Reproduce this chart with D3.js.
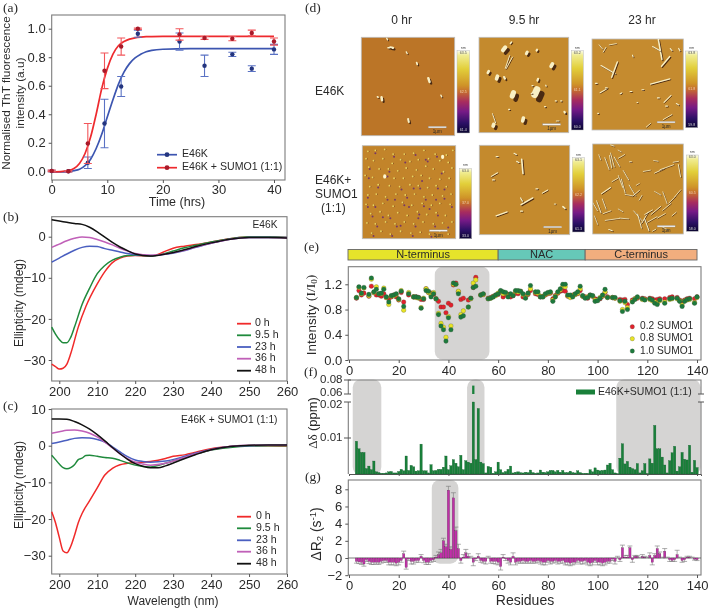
<!DOCTYPE html>
<html><head><meta charset="utf-8">
<style>html,body{margin:0;padding:0;background:#fff}svg{display:block;filter:blur(0.35px)}text{font-family:"Liberation Sans",Arial,sans-serif;fill:#2a2a2a}</style>
<script src="https://cdn.jsdelivr.net/npm/d3@7/dist/d3.min.js"></script>
</head><body><svg id="c" width="709" height="610"></svg>
<script>
// ---------- panel (a) ----------
const thtTime=[0,3,6.5,9.5,12.5,15.5,23,27.5,32.5,36,40];
const thtE46K=[0.002,0,0.06,0.335,0.595,0.965,0.91,0.74,0.82,0.72,0.855];
const thtE46KErr=[0.005,0.005,0.04,0.17,0.07,0.025,0.06,0.075,0.015,0.02,0.035];
const thtSumo=[0.003,0,0.195,0.705,0.875,1.0,0.96,0.935,0.93,0.97,0.91];
const thtSumoErr=[0.005,0.005,0.14,0.125,0.06,0.005,0.04,0.01,0.015,0.02,0.025];
const fitTime=[0,2,3,4,5,6,7,8,9,10,11,12,13,14,15,16,17,18,20,25,40];
const fitE46K=[-0.005,-0.004,-0.002,0.005,0.015,0.04,0.085,0.16,0.26,0.38,0.5,0.61,0.695,0.755,0.795,0.82,0.838,0.848,0.856,0.86,0.86];
const fitSumo=[-0.004,0,0.006,0.02,0.055,0.125,0.24,0.4,0.58,0.72,0.82,0.88,0.91,0.927,0.936,0.941,0.944,0.945,0.946,0.946,0.946];
// ---------- panels (b), (c) ----------
const cdLabels=["0 h","9.5 h","23 h","36 h","48 h"];
const cdColors=["#f02a2a","#1f8a3c","#4a5fc0","#c060b8","#111111"];
const bRedX=[198,199,200,201,202,203,205,207,210,212,214,216,218,220,224,226,228,230,233,236,240,245,250,255,260];
const bRedY=[-31,-31.6,-32.2,-32,-31,-28.5,-22,-17,-11.5,-8.5,-6.3,-5.2,-4.7,-4.6,-4.7,-4.3,-3.5,-2.8,-2.3,-1.9,-1.3,-0.5,-0.1,0,-0.2];
const bGreenX=[198,199,200,201,202,203,204,206,208,210,212,214,216,218,220,224,227,230,233,236,240,245,250,255,260];
const bGreenY=[-22,-23.7,-25,-25.8,-25.8,-24.5,-22,-16.5,-12.5,-9,-7,-5.7,-5,-4.6,-4.5,-4.7,-4.3,-3.5,-2.7,-2.1,-1.3,-0.5,0,0,-0.2];
const bBlueX=[198,200,202,204,206,208,210,212,214,216,218,220,224,228,232,236,240,245,250,255,260];
const bBlueY=[-6.2,-5.2,-4.2,-3.3,-2.6,-2.3,-2.4,-2.9,-3.3,-3.7,-4.1,-4.4,-4.6,-4.3,-3.6,-2.6,-1.6,-0.6,-0.2,-0.2,-0.2];
const bPurpleX=[198,200,202,204,206,208,210,212,214,216,218,220,224,228,232,236,240,245,250,255,260];
const bPurpleY=[-2.6,-1.8,-1,-0.4,-0.05,-0.2,-0.7,-1.3,-2,-2.8,-3.5,-4.1,-4.5,-4.2,-3.5,-2.5,-1.6,-0.6,-0.2,-0.2,-0.3];
const bBlackX=[198,200,202,204,206,208,210,212,214,216,218,220,224,228,232,236,240,245,250,255,260];
const bBlackY=[4.1,3.8,3.5,3.2,3,2.3,1.2,-0.1,-1.4,-2.5,-3.4,-4.2,-4.7,-4.2,-3.4,-2.4,-1.5,-0.6,-0.2,-0.2,-0.3];
const cRedX=[198,199,200,201,202,203,204,205,206,208,210,212,214,216,218,220,224,228,230,233,236,240,245,250,255,260];
const cRedY=[-18,-21,-25,-28.7,-29.2,-27.5,-24.5,-21,-18.5,-15,-11.5,-8,-6.2,-5.2,-4.8,-4.6,-4.3,-3.5,-2.9,-2.5,-1.8,-0.8,-0.2,0,0,-0.1];
const cGreenX=[198,199,200,201,202,203,204,205,206,207,208,210,212,214,216,218,220,224,228,232,236,240,245,250,255,260];
const cGreenY=[-2.6,-3.8,-5,-6,-6.3,-6,-5.2,-3.8,-3.4,-2.7,-2.6,-2.9,-3.2,-3.4,-4,-4.7,-5.3,-5.8,-4.8,-3.5,-2.3,-1.2,-0.5,-0.1,0,0];
const cBlueX=[198,200,202,204,206,208,210,212,214,216,218,220,222,224,228,232,236,240,245,250,255,260];
const cBlueY=[0.6,1,1.5,2,2.2,2.1,1.7,1,-0.3,-1.7,-3,-3.9,-4.3,-4.5,-4.2,-3.2,-2,-1,-0.2,0,0.1,0.1];
const cPurpleX=[198,200,202,204,206,208,210,212,214,216,218,220,222,224,228,232,236,240,245,250,255,260];
const cPurpleY=[3.4,3.8,4.2,4.3,4,3.4,2.4,1,-0.6,-2.2,-3.5,-4.5,-5,-5.3,-4.8,-3.5,-2.2,-1.1,-0.2,0.1,0.1,0.1];
const cBlackX=[198,200,202,204,206,208,210,212,214,216,218,220,222,224,226,228,232,236,240,245,250,255,260];
const cBlackY=[7.3,7.3,7.2,6.6,5.7,4.5,3,1.3,-0.5,-2.2,-3.7,-4.9,-5.6,-6,-6,-5.5,-3.9,-2.4,-1.1,-0.2,0.1,0.2,0.2];
// ---------- panel (e) ----------
const eRes=[3,4,5,6,8,9,10,11,12,13,
14,15,16,17,18,19,20,21,22,24,
26,27,28,29,30,31,32,33,34,35,
36,37,38,39,40,41,42,43,44,45,
46,48,49,50,51,53,54,56,57,58,
59,60,61,62,63,64,65,66,67,68,
69,70,71,72,73,75,76,77,78,79,
80,81,82,83,84,85,86,87,88,89,
90,91,92,93,94,95,96,97,98,99,
100,101,102,103,104,106,107,109,110,111,
112,114,115,116,118,119,121,122,123,124,
125,127,129,130,132,133,134,135,136,137,
139,140];
const eGreen=[.99,1.16,1.06,1.15,1.04,1.30,1.08,1.12,1.05,1.06,
1.12,1.00,.92,1.02,1.03,1.05,.97,1.09,.85,1.05,
1.00,1.00,.99,.82,.97,1.10,1.09,1.00,1.05,.97,
.72,.54,.48,.30,.67,.48,1.22,1.20,1.05,.68,
.70,.84,.98,1.15,1.17,1.03,1.05,.97,.98,1.00,
1.03,1.05,1.10,1.08,1.07,1.00,1.05,1.02,1.10,1.10,
1.09,1.05,.98,1.06,1.18,1.08,1.08,1.00,1.00,1.05,
1.07,1.08,.93,1.00,1.08,1.13,1.20,1.20,1.03,1.03,
1.00,1.05,1.08,1.17,1.02,.98,.99,1.03,1.02,.93,
.94,.98,1.03,1.12,.99,.99,.99,.94,.77,.93,
.80,.92,.96,1.00,.97,.95,.97,.95,.90,.88,
.95,.90,.97,.98,.98,.93,.85,.93,.96,.97,
.90,1.00];
const eYellow=[.99,1.15,1.05,1.14,1.02,1.28,1.07,1.16,1.05,1.05,
1.14,.99,.88,1.01,1.02,1.04,.96,1.10,.79,1.07,
1.00,.99,.98,.83,.98,1.13,1.07,1.02,1.07,.97,
.74,.58,.52,.36,.69,.54,1.20,1.20,1.09,.72,
.78,.84,.97,1.22,1.27,1.03,1.04,.97,.98,1.00,
1.02,1.06,1.09,1.05,1.06,1.01,1.04,1.03,1.09,1.08,
1.08,1.04,.99,1.05,1.13,1.07,1.06,1.01,1.00,1.04,
1.06,1.07,.95,1.01,1.07,1.11,1.17,1.16,1.02,.99,
1.02,1.04,1.06,1.13,1.01,.99,1.00,1.02,1.01,.95,
.95,.99,1.02,1.08,.99,.99,.98,.93,.80,.91,
.83,.93,.97,.99,.96,.96,.96,.94,.92,.90,
.94,.92,.96,.97,.97,.94,.87,.94,.95,.96,
.91,.99];
const eRed=[.98,1.10,1.03,1.06,1.01,1.17,1.07,1.03,1.03,1.01,
1.05,.99,.97,1.00,1.03,1.00,.95,1.07,.92,1.03,
1.00,1.00,.99,.96,.96,1.13,1.07,1.06,1.04,.97,
.93,.84,.84,.75,.90,.87,1.19,1.22,1.08,.96,
.98,.95,.98,1.15,1.31,1.03,1.04,.98,.99,1.01,
1.03,1.04,1.09,1.00,1.03,1.04,1.00,1.02,1.06,1.05,
1.09,1.00,1.00,1.04,1.10,1.05,1.04,1.00,1.01,1.03,
1.05,1.06,.97,1.02,1.06,1.09,1.10,1.09,1.01,1.00,
1.03,1.04,1.05,1.10,1.01,1.00,.98,1.03,1.01,.97,
.96,.97,1.01,1.07,1.00,.99,.98,.96,.95,.96,
.88,.95,.97,.98,.98,.97,.98,.97,.95,.96,
.97,.97,.99,1.00,.99,.95,.93,.95,.97,.98,
.97,1.00];
const regionNames=["N-terminus","NAC","C-terminus"];
const regionStart=[0,60,95];
const regionEnd=[60,95,140];
const regionFill=["#e6e42a","#66c8b8","#f2ae7e"];
// ---------- panel (f): residues 3..140 ----------
const fRes3to140=[.0091,.0070,.0060,.0060,.0015,.0022,.0012,.0036,.0006,.0004,
.0002,.0002,.0003,.0006,.0007,.0003,.0003,.0007,.0013,.0009,
.0050,.0010,.0024,.0020,.0008,.0009,.0083,.0009,.0009,.0003,
.0026,.0009,.0010,.0013,.0013,.0019,.0050,.0012,.0023,.0040,
.0030,.0020,.0052,.0012,.0037,.0033,.0030,.072,.0040,.0182,
.0033,.0029,.0003,.0021,.0019,.0002,.0006,.0033,.0012,.0004,
.0007,.0013,.0022,.0003,.0005,.0006,.0004,.0003,.0005,.0004,
.0011,.0004,.0002,.0003,.0011,.0005,.0004,.0006,.0010,.0010,
.0006,.0010,.0005,.0010,.0004,.0004,.0008,.0004,.0003,.0009,
.0004,.0002,.0002,.0002,.0012,.0006,.0017,.0011,.0009,.0010,
.0011,.0025,.0030,.0012,.0003,.0001,.0044,.0084,.0028,.0035,
.0019,.0015,.0012,.0029,.0003,.0009,.0029,.0001,.0042,.0030,
.0135,.0070,.0070,.0047,.0025,.0003,.0037,.0059,.0077,.0008,
.0020,.0060,.0041,.0039,.0080,.0005,.0038,.0018];
// ---------- panel (g): residues 3..140 ----------
const gRes3to140=[-.4,-.45,-.5,-.7,-.2,-.4,-.5,-.5,-.5,-.5,
-.4,-.3,-.3,-.5,-.5,-.5,-.6,-.5,-.3,.5,
-1.1,-.1,-.4,-.4,-.3,-.3,.2,-.3,-.5,-.5,
-.3,-.2,.1,.4,.6,2,1.3,7.9,1,7,
3.2,1.1,-.3,.1,.6,.2,0,-.5,-.1,.2,
-.3,-.4,-.4,0,-.4,-.4,-.4,-.5,-1,.1,
-.1,-.3,-.5,.2,-.5,-.4,-.4,-.3,-.4,-.4,
-.3,-.4,-.4,-.3,-.4,-.5,-.5,-.3,-.4,-.4,
-.3,-.4,-.4,-.3,-.5,-.5,-.6,-.5,-.5,-.3,
-.4,-.4,-.3,-.5,-.6,-.5,-.3,-.5,-.5,-.6,
-.5,-.4,-.4,-.1,-.4,0,-.2,1.2,.1,.1,
1.2,-.2,.2,.2,0,.2,.1,0,.3,-.5,
.3,1.1,.5,0,.8,0,-.2,-.3,-.2,.4,
0,-.3,-.2,.1,.1,0,-.15,-.2];
const gErr3to140=[.2,.2,.25,.25,.2,.25,.25,.25,.2,.25,
.2,.2,.2,.3,.3,.3,.3,.3,.2,.3,
.2,.2,.3,.3,.2,.2,.2,.25,.25,.25,
.2,.2,.2,.3,.4,.3,.3,.45,.3,.6,
.4,.5,.3,.3,.4,.3,.2,.4,.2,.3,
.2,.2,.3,.2,.2,.25,.3,.3,.4,.3,
.2,.3,.3,.4,.3,.2,.2,.3,.2,.2,
.3,.2,.2,.2,.3,.3,.3,.2,.3,.2,
.2,.3,.2,.3,.3,.3,.3,.3,.2,.2,
.3,.3,.3,.3,.3,.3,.2,.3,.3,.3,
.3,.2,.2,.2,.3,.2,.2,.3,.2,.2,
.2,.3,.1,.1,.1,.2,.1,.1,.3,.3,
.2,.3,.2,.1,.3,.1,.2,.1,.2,.5,
.1,.2,.2,.1,.1,.1,.1,.1];
// ---------- panel (d): AFM topography features, positions in % of each scan ----------
// [x%, y%, length%, angle deg, width px]
const afm1=[[28,2,2,60,2],[33,11,3,10,3.4],[30,11,2,0,2.4],[49,16,2,60,2],[60,27,2,70,2.6],[73,44,4,70,3.6],[22.5,63,3,80,3.6],[18,61,1,30,2.2],[86,60,2,60,2],[51,85,3,75,3]];
const afm2=[[29,13,4,-50,6],[36,6,2,-50,2.2],[54,17,2,-60,4.4],[65,14,1,-60,3.2],[82,30,3,-60,5.4],[32,26,14,-70,1.4],[34,27,14,-60,1.4],[11,37,2,-60,4],[21,43,3,-70,5.4],[29,43,2,60,3.2],[66,45,2,-70,3.2],[39,61,4,-70,7.5],[65,59,6,-65,10],[59,59,1,0,1.8],[17,93,2,-70,5.4],[17,85,10,70,1.4],[50,87,3,-75,5.4],[86,67,1,0,2],[92,67,1,0,2],[74,73,1,0,2],[96,79,1,60,3.2],[34,76,1,0,2],[60,51,1,0,2],[75,51,1,60,2],[88,88,3,0,1.6]];
const afm3=[[18,34,18,30,1.8],[25,34,18,-70,2.1],[75,12,22,80,2.3],[71,11,10,30,1.6],[81,25,14,-50,2.1],[75,47,22,-15,1.8],[13,57,9,-30,1.5],[83,66,11,-45,1.5],[10,9,6,50,1.3],[14,12,6,-60,1.3],[23,6,8,-10,1.2],[87,12,3,50,1.8],[96,12,3,60,1.8],[83,86,11,-30,1.3],[62,95,6,-40,1.3],[5,49,2,0,1.7],[32,60,2,-30,1.7],[43,58,2,0,1.7],[56,56,2,0,1.7],[73,65,2,0,1.7],[82,74,2,0,1.7],[94,72,3,30,1.7],[16,54,2,0,1.7],[45,19,2,70,1.7],[7,82,1,0,1.7],[50,70,1,0,1.4]];
const afm4Light=[[6,6],[14,5],[24,4],[33,9],[45,9],[55,8],[66,5],[78,9],[90,10],[97,5],[4,14],[12,16],[22,14],[32,19],[41,15],[51,17],[60,15],[71,14],[83,16],[92,18],[7,23],[18,25],[28,25],[38,27],[47,24],[58,26],[68,22],[76,25],[87,28],[96,24],[3,32],[11,34],[24,34],[34,35],[44,35],[54,33],[63,32],[72,35],[83,36],[93,35],[8,44],[17,42],[29,43],[40,44],[51,42],[60,43],[70,45],[79,43],[90,44],[6,53],[15,52],[25,55],[36,52],[46,53],[56,52],[66,55],[75,53],[86,54],[95,52],[4,63],[12,64],[22,62],[33,65],[43,61],[53,64],[64,62],[74,64],[83,62],[94,63],[9,73],[19,71],[28,75],[38,72],[48,75],[59,71],[69,74],[79,72],[89,75],[5,83],[14,84],[25,82],[35,84],[45,82],[55,84],[65,82],[76,84],[86,83],[96,82],[10,94],[20,92],[30,95],[41,92],[52,94],[62,93],[72,95],[83,92],[92,95]];
const afm4Dark=[[27,33],[68,15],[8,25],[46,18],[70,17],[85,30],[35,58],[55,46],[72,68],[22,77],[41,86],[60,78],[92,88],[14,66],[79,58],[29,28],[64,38],[50,66],[7,35],[88,47],[14,8],[34,12],[57,10],[80,12],[17,45],[42,47],[62,46],[81,46],[6,56],[27,58],[48,56],[68,58],[88,57],[6,66],[45,64],[66,65],[96,66],[11,76],[30,78],[61,74],[81,75],[16,87],[37,87],[57,87],[78,87],[12,97],[32,97],[54,97],[74,98]];
const afm4Bright=[[24,33],[86,12]];
const afm5=[[48,24,16,85,2.4],[40,10,3,30,1.8],[17,33,8,-30,1.6],[53,63,15,-30,2.1],[25,77,13,-20,1.8],[73,52,7,-30,1.6],[20,13,2,0,1.8],[16,39,2,0,1.8],[64,49,2,0,1.8],[94,70,3,40,2.4],[84,66,1.5,0,1.4],[47,74,2,0,1.8],[43,19,3,30,1.8],[47,61,4,60,1.8]];
const afm6=[[22,18,16,75,1.3],[20,20,14,80,1.3],[16,22,14,70,1.3],[27,20,12,60,1.3],[32,14,8,-30,1.2],[30,8,4,30,1.2],[8,15,6,70,1.2],[31,42,14,70,1.3],[34,47,16,75,1.3],[37,35,12,60,1.3],[15,52,12,-35,1.6],[25,40,8,-30,1.2],[44,52,14,60,1.3],[48,55,10,-40,1.3],[40,57,8,10,1.2],[3,70,10,60,1.3],[7,70,14,70,1.4],[13,67,12,70,1.3],[16,76,9,-20,1.2],[4,85,10,70,1.2],[22,84,16,-8,1.2],[35,83,10,5,1.2],[50,80,14,50,1.4],[52,86,16,75,1.4],[58,82,14,-60,1.4],[60,90,14,70,1.6],[62,76,10,-30,1.3],[66,84,12,-30,1.2],[70,74,14,-40,1.3],[76,80,10,-30,1.2],[82,70,12,-40,1.2],[88,62,10,-45,1.2],[80,60,14,70,1.2],[94,55,10,-50,1.2],[72,55,8,30,1.2],[74,30,12,-25,1.3],[82,26,16,-20,1.2],[92,20,6,-10,1.2],[96,30,14,80,1.4],[60,30,8,-10,1.2],[70,19,5,10,1.2],[50,45,4,-30,1.1],[20,96,4,20,1.8],[22,2,4,20,1.4],[80,94,6,30,1.2],[68,96,4,-30,1.2],[53,60,6,-60,1.2],[31,74,6,30,1.2],[90,78,6,-40,1.2],[42,20,2,0,1.4]];
const afmTitles=["0 hr","9.5 hr","23 hr"];
const afmBase=["#bb7527","#c48a2d","#c58b2f","#c2842a","#c48a2d","#c48b2e"];
const barTop=["63.5","63.2","63.8","63.0","63.1","63.0"];
const barMid=["62.5","61.1","61.8","37.0","62.2","60.5"];
const barLow=["61.4","60.0","59.8","33.0","61.3","58.0"];

const svg=d3.select("#c");
const defs=svg.append("defs");
const grey="#7d7d7d";
const lab=(x,y,t,o={})=>svg.append("text").attr("x",x).attr("y",y).attr("font-size",o.s||13).attr("text-anchor",o.a||"start").attr("dominant-baseline","middle")
  .style("font-family",o.f||null).text(t);
const vlab=(x,y,t,s=13)=>svg.append("text").attr("transform",`translate(${x},${y}) rotate(-90)`).attr("font-size",s).attr("text-anchor","middle").attr("dominant-baseline","middle").text(t);
[["(a)",3,8.5],["(b)",3,218],["(c)",3,407],["(d)",305,8.5],["(e)",304,248],["(f)",304,373],["(g)",305,478]].forEach(d=>lab(d[1],d[2],d[0],{s:13.5,f:"Liberation Serif"}));

function frame(x0,x1,y0,y1){svg.append("rect").attr("x",x0).attr("y",y0).attr("width",x1-x0).attr("height",y1-y0).attr("fill","none").attr("stroke",grey).attr("stroke-width",1.1);}
function axes(x,y,xt,yt,x0,x1,y0,y1,opt={}){
  frame(x0,x1,y0,y1);
  const gx=svg.append("g").attr("transform",`translate(0,${y1})`).call(d3.axisBottom(x).tickValues(xt).tickSize(3).tickPadding(opt.xp||3).tickFormat(opt.xf||d3.format("d")));
  const gy=svg.append("g").attr("transform",`translate(${x0},0)`).call(d3.axisLeft(y).tickValues(yt).tickSize(3).tickPadding(3).tickFormat(opt.yf||d3.format("d")));
  [gx,gy].forEach(g=>{g.select(".domain").remove();g.selectAll("line").attr("stroke","#555");g.selectAll("text").attr("font-size",opt.fs||13).style("font-family",'"Liberation Sans"').style("fill","#2a2a2a");});
}
const line=(x,y)=>d3.line().x(d=>x(d[0])).y(d=>y(d[1])).curve(d3.curveMonotoneX);
const zip=(a,b)=>a.map((v,i)=>[v,b[i]]);

// ---- (a)
{
 const x=d3.scaleLinear().domain([0,40]).range([51.7,274]);
 const y=d3.scaleLinear().domain([0,1]).range([171.3,28.7]);
 axes(x,y,[0,10,20,30,40],[0,.2,.4,.6,.8,1],51.7,285,15,180,{yf:d3.format(".1f"),xp:2});
 const sets=[[thtE46K,thtE46KErr,fitE46K,"#3c55b0","#24357f","#5a72c4"],[thtSumo,thtSumoErr,fitSumo,"#ee2a2e","#a81a2a","#f2555a"]];
 sets.forEach(s=>{
  svg.append("path").attr("d",line(x,y)(zip(fitTime,s[2]))).attr("fill","none").attr("stroke",s[3]).attr("stroke-width",1.7);
 });
 sets.forEach(s=>{
  const g=svg.append("g");
  thtTime.forEach((t,i)=>{
   const px=x(t),a=y(s[0][i]-s[1][i]),b=y(s[0][i]+s[1][i]);
   g.append("path").attr("d",`M${px-4},${a}H${px+4}M${px-4},${b}H${px+4}M${px},${a}V${b}`).attr("fill","none").attr("stroke",s[5]).attr("stroke-width",1.1);
   g.append("circle").attr("cx",px).attr("cy",y(s[0][i])).attr("r",2.2).attr("fill",s[4]);
  });
 });
 [["E46K",154.7,sets[0]],["E46K + SUMO1 (1:1)",167.7,sets[1]]].forEach(d=>{
  svg.append("line").attr("x1",157).attr("x2",177).attr("y1",d[1]).attr("y2",d[1]).attr("stroke",d[2][3]).attr("stroke-width",1.7);
  svg.append("circle").attr("cx",167).attr("cy",d[1]).attr("r",2.4).attr("fill",d[2][4]);
  lab(182,d[1],d[0],{s:10.6});
 });
 vlab(7,93,"Normalised ThT fluorescence",11.8);
 vlab(21,93,"intensity (a.u)",11.8);
 lab(177,203,"Time (hrs)",{a:"middle",s:12.5});
}
// ---- (b),(c)
function cd(series,y0,y1,zero,m30,yt,title,titleY,legY,legTx){
 const x=d3.scaleLinear().domain([198,260]).range([51.7,287]);
 const y=d3.scaleLinear().domain([0,-30]).range([zero,m30]);
 axes(x,y,[200,210,220,230,240,250,260],yt,51.7,287,y0,y1);
 series.forEach((s,i)=>svg.append("path").attr("d",line(x,y)(zip(s[0],s[1]))).attr("fill","none").attr("stroke",cdColors[i]).attr("stroke-width",1.5));
 legY.forEach((ly,i)=>{
  svg.append("line").attr("x1",237).attr("x2",251).attr("y1",ly).attr("y2",ly).attr("stroke",cdColors[i]).attr("stroke-width",1.8);
  lab(legTx,ly,cdLabels[i],{s:10.6});
 });
 lab(277.5,titleY,title,{a:"end",s:10.2});
}
cd([[bRedX,bRedY],[bGreenX,bGreenY],[bBlueX,bBlueY],[bPurpleX,bPurpleY],[bBlackX,bBlackY]],216.7,381,236.7,360,[-30,-20,-10,0],"E46K",225,[323.7,335.3,347,358.7,370.7],255);
cd([[cRedX,cRedY],[cGreenX,cGreenY],[cBlueX,cBlueY],[cPurpleX,cPurpleY],[cBlackX,cBlackY]],409,574,445.7,555.7,[-30,-20,-10,0,10],"E46K + SUMO1 (1:1)",420.7,[516.7,528.3,540.3,551.7,563.7],256);
vlab(20,303,"Ellipticity (mdeg)",12);
vlab(20,485,"Ellipticity (mdeg)",12);
lab(173,602,"Wavelength (nm)",{a:"middle",s:12});

// ---- (d)
afmTitles.forEach((t,i)=>lab([401.7,524,642][i],20.7,t,{a:"middle",s:12}));
lab(315,92,"E46K",{s:12});
lab(315,180.7,"E46K+",{s:12});lab(315,195,"SUMO1",{s:12});lab(321,209,"(1:1)",{s:12});
const grad=defs.append("linearGradient").attr("id","cb").attr("x1",0).attr("x2",0).attr("y1",0).attr("y2",1);
[[0,"#fbfbe8"],[.06,"#f0ec90"],[.22,"#e2cf3a"],[.42,"#cf9428"],[.5,"#c56c30"],[.62,"#a82c5e"],[.74,"#761a86"],[.88,"#2c1066"],[1,"#0a0530"]].forEach(s=>grad.append("stop").attr("offset",s[0]).attr("stop-color",s[1]));
const imgs=[[361.3,454.7,37.3,135.7,afm1],[479,568.7,37.3,132.7,afm2],[592,683.3,39,130,afm3],[362.3,455.7,145.7,238.7,null],[479.3,569.7,145.3,234.7,afm5],[592.7,683.3,144,234,afm6]];
const bars=[[457,469.7,50.7,133],[571.3,583.3,50.7,130],[685.7,697.7,51,127.7],[459.3,471.7,168.3,238.7],[572.3,584.7,157.7,232],[686.3,698.3,155,231.3]];
imgs.forEach((im,k)=>{
 const [a,b,c,d,f]=im;
 const X=d3.scaleLinear().domain([0,100]).range([a,b]),Y=d3.scaleLinear().domain([0,100]).range([c,d]);
 defs.append("clipPath").attr("id","ci"+k).append("rect").attr("x",a).attr("y",c).attr("width",b-a).attr("height",d-c);
 svg.append("rect").attr("x",a).attr("y",c).attr("width",b-a).attr("height",d-c).attr("fill",afmBase[k]).attr("stroke","#bdbdbd").attr("stroke-width",.8);
 const g=svg.append("g").attr("clip-path",`url(#ci${k})`);
 if(f){
  f.forEach(p=>{
   const ang=p[3]*Math.PI/180,hx=p[2]/2*Math.cos(ang)*(b-a)/100,hy=p[2]/2*Math.sin(ang)*(d-c)/100;
   const x=X(p[0]),y=Y(p[1]),w=p[4];
   const off=w*.3;
   g.append("line").attr("x1",x-hx+off).attr("y1",y-hy+off).attr("x2",x+hx+off).attr("y2",y+hy+off).attr("stroke","#4a2a12").attr("stroke-width",w*.62).attr("stroke-linecap","round");
   g.append("line").attr("x1",x-hx-off*.5).attr("y1",y-hy-off*.5).attr("x2",x+hx-off*.5).attr("y2",y+hy-off*.5).attr("stroke","#f8efc4").attr("stroke-width",w*.68).attr("stroke-linecap","round");
  });
 } else {
  afm4Dark.forEach(p=>g.append("circle").attr("cx",X(p[0])).attr("cy",Y(p[1])).attr("r",1).attr("fill","#6a2a70").attr("opacity",.85));
  afm4Light.forEach(p=>{
   g.append("circle").attr("cx",X(p[0])+.9).attr("cy",Y(p[1])+.2).attr("r",.8).attr("fill","#8a4f22");
   g.append("circle").attr("cx",X(p[0])).attr("cy",Y(p[1])).attr("r",.9).attr("fill","#e8d562");
  });
  afm4Bright.forEach(p=>g.append("ellipse").attr("cx",X(p[0])).attr("cy",Y(p[1])).attr("rx",1.6).attr("ry",2.2).attr("fill","#fff8d0"));
 }
 // scale bar
 const sw=18;
 g.append("rect").attr("x",X(91)-sw).attr("y",Y(90.5)).attr("width",sw).attr("height",1.6).attr("fill","#f2f2f2").attr("stroke","#888").attr("stroke-width",.3);
 svg.append("text").attr("x",X(91)-sw/2).attr("y",Y(90.5)+5.5).attr("font-size",4.5).attr("text-anchor","middle").attr("dominant-baseline","middle").text("1µm");
 // colour bar
 const cb=bars[k];
 svg.append("rect").attr("x",cb[0]).attr("y",cb[2]).attr("width",cb[1]-cb[0]).attr("height",cb[3]-cb[2]).attr("fill","url(#cb)").attr("stroke","#bbb").attr("stroke-width",.5);
 const cx=(cb[0]+cb[1])/2;
 const tt=(yy,t,col)=>svg.append("text").attr("x",cx).attr("y",yy).attr("font-size",3.6).attr("text-anchor","middle").attr("dominant-baseline","middle").style("fill",col).text(t);
 tt(cb[2]-3,"nm","#444");tt(cb[2]+2.5,barTop[k],"#555");tt((cb[2]+cb[3])/2,barMid[k],"#f0d0b0");tt(cb[3]-2.5,barLow[k],"#ddd");
});

// ---- shared residue x
const xR=d3.scaleLinear().domain([0,141.6]).range([349,701]);
const resAll=d3.range(3,141);
const shade=(r0,r1,y0,y1)=>svg.append("rect").attr("x",xR(r0)).attr("width",xR(r1)-xR(r0)).attr("y",y0).attr("height",y1-y0).attr("rx",8).attr("fill","#d5d4d3");
const resT=[0,20,40,60,80,100,120,140];
regionNames.forEach((n,i)=>{
 const a=xR(regionStart[i])-(i==0?1:0),b=xR(regionEnd[i]);
 svg.append("rect").attr("x",a).attr("y",249.5).attr("width",b-a).attr("height",10.5).attr("fill",regionFill[i]).attr("stroke","#666").attr("stroke-width",.9);
 lab((a+b)/2,255,n,{a:"middle",s:11});
});
// ---- (e)
{
 const y=d3.scaleLinear().domain([0,1.2]).range([360,284.3]);
 shade(34.5,56.5,266.7,359.5);
 axes(xR,y,resT,[0,.4,.8,1.2],348.3,701,266.7,360,{yf:d3.format(".1f")});
 [[eRed,"#e2212c"],[eYellow,"#e9e325"],[eGreen,"#1d7a3d"]].forEach(s=>{
  svg.append("g").selectAll("circle").data(eRes).join("circle").attr("cx",d=>xR(d)).attr("cy",(d,i)=>y(s[0][i])).attr("r",2.3).attr("fill",s[1]).attr("stroke","#3a4a30").attr("stroke-width",.25);
 });
 [["0.2 SUMO1",326.7,"#e2212c"],["0.8 SUMO1",338.7,"#e9e325"],["1.0 SUMO1",351,"#1d7a3d"]].forEach(d=>{
  svg.append("circle").attr("cx",632.3).attr("cy",d[1]).attr("r",2.2).attr("fill",d[2]).attr("stroke","#3a4a30").attr("stroke-width",.25);
  lab(640,d[1],d[0],{s:10.2});
 });
 const v=svg.append("text").attr("transform","translate(312,315) rotate(-90)").attr("font-size",13.5).attr("text-anchor","middle").attr("dominant-baseline","middle");
 v.append("tspan").text("Intensity ");
 v.append("tspan").style("font-family","Liberation Serif").text("(I/I");
 v.append("tspan").attr("font-size",9).attr("dy",3).style("font-family","Liberation Serif").text("0");
 v.append("tspan").attr("dy",-3).style("font-family","Liberation Serif").text(")");
}
// ---- (f)
{
 const yTop=474,yLow=402,yBrk=394,yHi=380;
 const yL=d3.scaleLinear().domain([0,.02]).range([yTop,yLow]);
 const yU=d3.scaleLinear().domain([.06,.08]).range([yBrk,yHi]);
 shade(1.5,13,379.5,475);shade(47.5,54.5,379.5,475);shade(107.5,141.4,379.5,475);
 const bw=2.3;
 const xg=svg.append("g").attr("transform",`translate(0,${yTop})`).call(d3.axisBottom(xR).tickValues(resT).tickSize(2).tickFormat(""));
 xg.select(".domain").attr("stroke","#555");xg.selectAll("line").attr("stroke","#555");
 svg.append("g").selectAll("rect").data(resAll).join("rect").attr("x",d=>xR(d)-bw/2).attr("width",bw)
  .attr("y",(d,i)=>yL(Math.min(fRes3to140[i],.02))).attr("height",(d,i)=>yTop-yL(Math.min(fRes3to140[i],.02)))
  .attr("fill","#19803a").attr("stroke","#0f5a28").attr("stroke-width",.3);
 resAll.forEach((d,i)=>{ if(fRes3to140[i]>.02) svg.append("rect").attr("x",xR(d)-bw/2).attr("width",bw).attr("y",yU(fRes3to140[i])).attr("height",yBrk-yU(fRes3to140[i])).attr("fill","#19803a"); });
 const path=`M348.3,${yTop}V${yLow}M348.3,${yBrk}V${yHi}H701V${yBrk}M701,${yLow}V${yTop}`;
 svg.append("path").attr("d",path).attr("fill","none").attr("stroke",grey).attr("stroke-width",1.1);
 [[yHi,"0.08",379.5],[yBrk,"0.06",392.5],[yLow,"0.02",405],[yL(.01),"0.01",437.5]].forEach(d=>{
  svg.append("line").attr("x1",344).attr("x2",351).attr("y1",d[0]).attr("y2",d[0]).attr("stroke","#555");
  lab(342.5,d[2],d[1],{a:"end",s:11.5});
 });
 [yBrk,yLow].forEach(v=>svg.append("line").attr("x1",698).attr("x2",704).attr("y1",v).attr("y2",v).attr("stroke","#555"));
 svg.append("rect").attr("x",576).attr("y",389.5).attr("width",19).attr("height",5).attr("fill","#19803a");
 lab(598,392,"E46K+SUMO1 (1:1)",{s:10.5});
 const v=svg.append("text").attr("transform","translate(314,423) rotate(-90)").attr("font-size",13).attr("text-anchor","middle").attr("dominant-baseline","middle");
 v.append("tspan").style("font-family","Liberation Serif").text("Δδ ");
 v.append("tspan").text("(ppm)");
}
// ---- (g)
{
 const y=d3.scaleLinear().domain([0,8]).range([558,489.3]);
 shade(33.3,44,480,563.7);
 axes(xR,y,resT,[-2,0,2,4,6,8],348.3,701,480,575,{fs:13});
 const bw=2.3;
 svg.append("line").attr("x1",348.3).attr("x2",701).attr("y1",y(0)).attr("y2",y(0)).attr("stroke","#444").attr("stroke-width",.7);
 svg.append("g").selectAll("rect").data(resAll).join("rect").attr("x",d=>xR(d)-bw/2).attr("width",bw)
  .attr("y",(d,i)=>y(Math.max(gRes3to140[i],0))).attr("height",(d,i)=>Math.abs(y(gRes3to140[i])-y(0)))
  .attr("fill","#c030a8").attr("stroke","#40203a").attr("stroke-width",.25);
 const eb=svg.append("g").attr("stroke","#777").attr("stroke-width",.6).attr("fill","none");
 resAll.forEach((d,i)=>{
  const v=gRes3to140[i],e=gErr3to140[i],yy=y(v+(v>=0?e:-e)),px=xR(d);
  eb.append("path").attr("d",`M${px},${y(v)}V${yy}M${px-2.5},${yy}H${px+2.5}`);
 });
 const v=svg.append("text").attr("transform","translate(317,534) rotate(-90)").attr("font-size",14).attr("text-anchor","middle").attr("dominant-baseline","middle");
 v.append("tspan").text("ΔR");
 v.append("tspan").attr("font-size",9.5).attr("dy",3).text("2");
 v.append("tspan").attr("dy",-3).text(" (s");
 v.append("tspan").attr("font-size",9.5).attr("dy",-4).text("-1");
 v.append("tspan").attr("dy",4).text(")");
 lab(525,601,"Residues",{a:"middle",s:14});
}
</script></body></html>
